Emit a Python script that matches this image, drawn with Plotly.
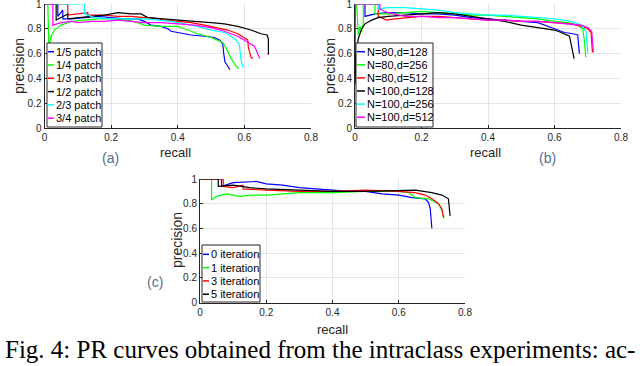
import plotly.graph_objects as go

# ---------------- data ----------------
a_names = ["1/5 patch", "1/4 patch", "1/3 patch", "1/2 patch", "2/3 patch", "3/4 patch"]
b_names = ["N=80,d=128", "N=80,d=256", "N=80,d=512", "N=100,d=128", "N=100,d=256", "N=100,d=512"]
c_names = ["0 iteration", "1 iteration", "3 iteration", "5 iteration"]

colors6 = ["#0000ff", "#00ff00", "#ff0000", "#000000", "#00ffff", "#ff00ff"]
colors4 = ["#0000ff", "#00ff00", "#ff0000", "#000000"]

# (a) patch size
a_r_blue = [0, 0.04, 0.04, 0.055, 0.055, 0.08, 0.12, 0.16, 0.2, 0.24, 0.28, 0.30, 0.32, 0.35, 0.37, 0.38, 0.40, 0.44, 0.48, 0.51, 0.525, 0.535, 0.538, 0.542, 0.55, 0.556]
a_p_blue = [1, 1, 0.90, 0.95, 0.88, 0.88, 0.89, 0.90, 0.89, 0.88, 0.88, 0.86, 0.83, 0.82, 0.80, 0.78, 0.77, 0.75, 0.74, 0.73, 0.71, 0.68, 0.60, 0.53, 0.50, 0.47]
a_r_green = [0, 0.01, 0.013, 0.02, 0.03, 0.05, 0.08, 0.12, 0.16, 0.2, 0.25, 0.28, 0.30, 0.35, 0.40, 0.42, 0.46, 0.50, 0.52, 0.535, 0.548, 0.56, 0.575, 0.583]
a_p_green = [1, 1, 0.66, 0.74, 0.79, 0.83, 0.86, 0.87, 0.88, 0.88, 0.87, 0.85, 0.83, 0.82, 0.82, 0.80, 0.76, 0.73, 0.71, 0.69, 0.63, 0.56, 0.50, 0.48]
a_r_red = [0, 0.07, 0.07, 0.10, 0.13, 0.13, 0.18, 0.22, 0.26, 0.30, 0.32, 0.36, 0.40, 0.44, 0.48, 0.52, 0.55, 0.58, 0.60, 0.61, 0.612, 0.62, 0.626]
a_p_red = [1, 1, 0.91, 0.92, 0.93, 0.91, 0.91, 0.90, 0.90, 0.89, 0.89, 0.87, 0.86, 0.85, 0.83, 0.81, 0.79, 0.76, 0.73, 0.71, 0.65, 0.57, 0.56]
a_r_black = [0, 0.035, 0.035, 0.07, 0.07, 0.10, 0.14, 0.18, 0.22, 0.26, 0.29, 0.31, 0.35, 0.40, 0.45, 0.50, 0.54, 0.58, 0.62, 0.65, 0.668, 0.672, 0.672]
a_p_black = [1, 1, 0.87, 0.92, 0.88, 0.89, 0.90, 0.91, 0.93, 0.92, 0.92, 0.89, 0.88, 0.87, 0.86, 0.85, 0.84, 0.82, 0.79, 0.76, 0.75, 0.72, 0.59]
a_r_cyan = [0, 0.12, 0.12, 0.15, 0.2, 0.25, 0.30, 0.34, 0.38, 0.42, 0.46, 0.50, 0.54, 0.56, 0.575, 0.585, 0.59, 0.596]
a_p_cyan = [1, 1, 0.92, 0.89, 0.88, 0.88, 0.88, 0.87, 0.86, 0.84, 0.82, 0.79, 0.77, 0.74, 0.71, 0.67, 0.55, 0.49]
a_r_magenta = [0, 0.025, 0.025, 0.05, 0.08, 0.10, 0.14, 0.18, 0.22, 0.26, 0.30, 0.35, 0.40, 0.45, 0.50, 0.54, 0.58, 0.61, 0.63, 0.64, 0.646]
a_p_magenta = [1, 1, 0.83, 0.85, 0.86, 0.85, 0.86, 0.86, 0.87, 0.86, 0.85, 0.85, 0.84, 0.83, 0.81, 0.78, 0.74, 0.69, 0.66, 0.60, 0.56]

# (b) N and d
b_r_blue = [0, 0.03, 0.03, 0.06, 0.10, 0.15, 0.2, 0.25, 0.3, 0.35, 0.4, 0.45, 0.5, 0.55, 0.59, 0.63, 0.655, 0.67, 0.672, 0.675]
b_p_blue = [1, 1, 0.90, 0.92, 0.93, 0.93, 0.92, 0.92, 0.91, 0.89, 0.88, 0.87, 0.86, 0.85, 0.81, 0.77, 0.76, 0.75, 0.68, 0.60]
b_r_green = [0, 0.005, 0.01, 0.015, 0.02, 0.025, 0.025, 0.06, 0.06, 0.10, 0.15, 0.2, 0.25, 0.3, 0.35, 0.4, 0.45, 0.5, 0.55, 0.6, 0.64, 0.67, 0.685, 0.69, 0.694]
b_p_green = [1, 1, 0.75, 0.82, 0.78, 0.85, 1, 1, 0.92, 0.92, 0.93, 0.94, 0.93, 0.92, 0.91, 0.91, 0.90, 0.89, 0.88, 0.86, 0.85, 0.83, 0.80, 0.70, 0.57]
b_r_red = [0, 0.07, 0.07, 0.095, 0.12, 0.16, 0.2, 0.25, 0.3, 0.35, 0.4, 0.45, 0.5, 0.55, 0.6, 0.65, 0.68, 0.70, 0.71, 0.712, 0.714]
b_p_red = [1, 1, 0.90, 0.87, 0.88, 0.89, 0.90, 0.90, 0.89, 0.88, 0.87, 0.87, 0.86, 0.86, 0.85, 0.84, 0.82, 0.80, 0.77, 0.68, 0.61]
b_r_black = [0, 0, 0.003, 0.01, 0.02, 0.03, 0.05, 0.07, 0.10, 0.15, 0.2, 0.25, 0.3, 0.33, 0.35, 0.4, 0.45, 0.5, 0.55, 0.6, 0.62, 0.645, 0.652, 0.659]
b_p_black = [1, 0.35, 0.60, 0.72, 0.80, 0.84, 0.87, 0.89, 0.90, 0.91, 0.92, 0.93, 0.92, 0.91, 0.90, 0.88, 0.86, 0.83, 0.81, 0.79, 0.77, 0.74, 0.65, 0.56]
b_r_cyan = [0, 0.07, 0.07, 0.10, 0.15, 0.2, 0.25, 0.3, 0.35, 0.4, 0.45, 0.5, 0.55, 0.6, 0.65, 0.68, 0.695, 0.70]
b_p_cyan = [1, 1, 0.96, 0.97, 0.97, 0.96, 0.95, 0.93, 0.92, 0.91, 0.91, 0.90, 0.89, 0.88, 0.86, 0.83, 0.78, 0.60]
b_r_magenta = [0, 0.075, 0.075, 0.10, 0.15, 0.2, 0.25, 0.3, 0.35, 0.4, 0.45, 0.5, 0.55, 0.6, 0.65, 0.68, 0.70, 0.712, 0.717]
b_p_magenta = [1, 1, 0.96, 0.93, 0.90, 0.90, 0.89, 0.89, 0.88, 0.87, 0.87, 0.86, 0.86, 0.85, 0.84, 0.83, 0.81, 0.78, 0.61]

# (c) iterations
c_r_blue = [0, 0.065, 0.065, 0.10, 0.17, 0.2, 0.25, 0.3, 0.35, 0.4, 0.45, 0.5, 0.52, 0.55, 0.6, 0.64, 0.68, 0.69, 0.695, 0.70]
c_p_blue = [1, 1, 0.94, 0.97, 0.98, 0.96, 0.95, 0.93, 0.92, 0.91, 0.90, 0.90, 0.89, 0.88, 0.87, 0.85, 0.84, 0.81, 0.76, 0.60]
c_r_green = [0, 0.035, 0.035, 0.05, 0.08, 0.10, 0.12, 0.15, 0.2, 0.25, 0.3, 0.4, 0.5, 0.6, 0.63, 0.65, 0.69, 0.72, 0.73, 0.737]
c_p_green = [1, 1, 0.83, 0.86, 0.88, 0.87, 0.86, 0.87, 0.87, 0.88, 0.89, 0.89, 0.90, 0.90, 0.89, 0.85, 0.84, 0.80, 0.75, 0.68]
c_r_red = [0, 0.07, 0.07, 0.10, 0.13, 0.13, 0.2, 0.3, 0.4, 0.5, 0.6, 0.65, 0.68, 0.70, 0.72, 0.73, 0.735]
c_p_red = [1, 1, 0.94, 0.93, 0.95, 0.92, 0.91, 0.90, 0.90, 0.91, 0.90, 0.89, 0.87, 0.84, 0.80, 0.76, 0.69]
c_r_black = [0, 0.055, 0.055, 0.10, 0.15, 0.2, 0.3, 0.4, 0.5, 0.6, 0.65, 0.7, 0.73, 0.75, 0.755]
c_p_black = [1, 1, 0.94, 0.95, 0.93, 0.92, 0.91, 0.90, 0.90, 0.91, 0.91, 0.89, 0.87, 0.84, 0.70]

x_ticks = [0, 0.2, 0.4, 0.6, 0.8]
x_ticklabels = ["0", "0.2", "0.4", "0.6", "0.8"]
y_ticks = [0, 0.2, 0.4, 0.6, 0.8, 1]
y_ticklabels = ["0", "0.2", "0.4", "0.6", "0.8", "1"]

caption = "Fig. 4: PR curves obtained from the intraclass experiments: ac-"

# ---------------- figure ----------------
W, H = 640, 366


def fx(px):
    return px / W


def fy(py):
    return 1 - py / H


fig = go.Figure()

panels = [
    ("x", "y", a_names, colors6,
     [(a_r_blue, a_p_blue), (a_r_green, a_p_green), (a_r_red, a_p_red),
      (a_r_black, a_p_black), (a_r_cyan, a_p_cyan), (a_r_magenta, a_p_magenta)]),
    ("x2", "y2", b_names, colors6,
     [(b_r_blue, b_p_blue), (b_r_green, b_p_green), (b_r_red, b_p_red),
      (b_r_black, b_p_black), (b_r_cyan, b_p_cyan), (b_r_magenta, b_p_magenta)]),
    ("x3", "y3", c_names, colors4,
     [(c_r_blue, c_p_blue), (c_r_green, c_p_green), (c_r_red, c_p_red), (c_r_black, c_p_black)]),
]

for xa, ya, names, cols, series in panels:
    for name, col, (r, p) in zip(names, cols, series):
        fig.add_trace(go.Scatter(x=r, y=p, mode="lines", name=name,
                                 line=dict(color=col, width=1.2),
                                 xaxis=xa, yaxis=ya, showlegend=False))

axis_col = "#262626"
common_x = dict(range=[0, 0.8], tickvals=x_ticks, ticktext=x_ticklabels,
                showgrid=True, gridcolor="#e3e3e3", gridwidth=1,
                showline=True, linecolor=axis_col, linewidth=1,
                ticks="inside", ticklen=3, tickcolor=axis_col,
                tickfont=dict(family="Arial", size=10, color=axis_col),
                ticklabeloverflow="allow",
                zeroline=False, fixedrange=True, automargin=False)
common_y = dict(range=[0, 1], tickvals=y_ticks, ticktext=y_ticklabels,
                showgrid=True, gridcolor="#e3e3e3", gridwidth=1,
                showline=True, linecolor=axis_col, linewidth=1,
                ticks="inside", ticklen=3, tickcolor=axis_col,
                tickfont=dict(family="Arial", size=10, color=axis_col),
                ticklabeloverflow="allow",
                zeroline=False, fixedrange=True, automargin=False)

fig.update_layout(
    width=W, height=H,
    margin=dict(l=0, r=0, t=0, b=0, pad=0),
    paper_bgcolor="white", plot_bgcolor="white",
    showlegend=False,
    xaxis=dict(common_x, domain=[fx(44.5), fx(311)], anchor="y"),
    yaxis=dict(common_y, domain=[fy(128), fy(4)], anchor="x"),
    xaxis2=dict(common_x, domain=[fx(355), fx(621)], anchor="y2"),
    yaxis2=dict(common_y, domain=[fy(128), fy(4)], anchor="x2"),
    xaxis3=dict(common_x, domain=[fx(200), fx(465)], anchor="y3"),
    yaxis3=dict(common_y, domain=[fy(302.7), fy(179)], anchor="x3"),
)

annotations = []
shapes = []

label_font = dict(family="Arial", size=14, color=axis_col)
recall_font = dict(family="Arial", size=13, color=axis_col)
for (px, py) in [(19, 66), (330, 66), (177, 240)]:
    annotations.append(dict(x=fx(px), y=fy(py), xref="paper", yref="paper", text="precision",
                            textangle=-90, showarrow=False, font=label_font,
                            xanchor="center", yanchor="middle"))
for (px, py) in [(175, 152), (485, 152), (332, 329)]:
    annotations.append(dict(x=fx(px), y=fy(py), xref="paper", yref="paper", text="recall",
                            showarrow=False, font=recall_font, xanchor="center", yanchor="middle"))
for txt, (px, py) in [("(a)", (110, 158)), ("(b)", (547, 158)), ("(c)", (155, 282))]:
    annotations.append(dict(x=fx(px), y=fy(py), xref="paper", yref="paper", text=txt,
                            showarrow=False, font=dict(family="Arial", size=14, color="#4f6f92"),
                            xanchor="center", yanchor="middle"))


def add_legend(names, cols, box, row0, step, lx0, lx1, tx):
    x0, y0, x1, y1 = box
    shapes.append(dict(type="rect", xref="paper", yref="paper",
                       x0=fx(x0), x1=fx(x1), y0=fy(y1), y1=fy(y0),
                       line=dict(color=axis_col, width=1), fillcolor="white", layer="above"))
    for i, (nm, col) in enumerate(zip(names, cols)):
        yy = row0 + i * step
        shapes.append(dict(type="line", xref="paper", yref="paper",
                           x0=fx(lx0), x1=fx(lx1), y0=fy(yy), y1=fy(yy),
                           line=dict(color=col, width=1.5), layer="above"))
        annotations.append(dict(x=fx(tx), y=fy(yy), xref="paper", yref="paper", text=nm,
                                showarrow=False, xanchor="left", yanchor="middle",
                                font=dict(family="Arial", size=11, color="black")))


add_legend(a_names, colors6, (47, 43, 102, 127), 51.7, 13.3, 48, 54, 53.5)
add_legend(b_names, colors6, (356, 43, 433, 127), 51.7, 13.1, 357, 365, 364.5)
add_legend(c_names, colors4, (202, 245, 260, 302), 254.3, 13.3, 203, 209, 208.5)

annotations.append(dict(x=0.5, y=fy(349), xref="paper", yref="paper", text=caption,
                        showarrow=False, xanchor="center", yanchor="middle",
                        font=dict(family="Liberation Serif", size=25, color="black")))

fig.update_layout(annotations=annotations, shapes=shapes)

fig.write_html("out.html", config={"displayModeBar": False},
               post_script="document.body.style.margin='0px';document.body.style.padding='0px';")
